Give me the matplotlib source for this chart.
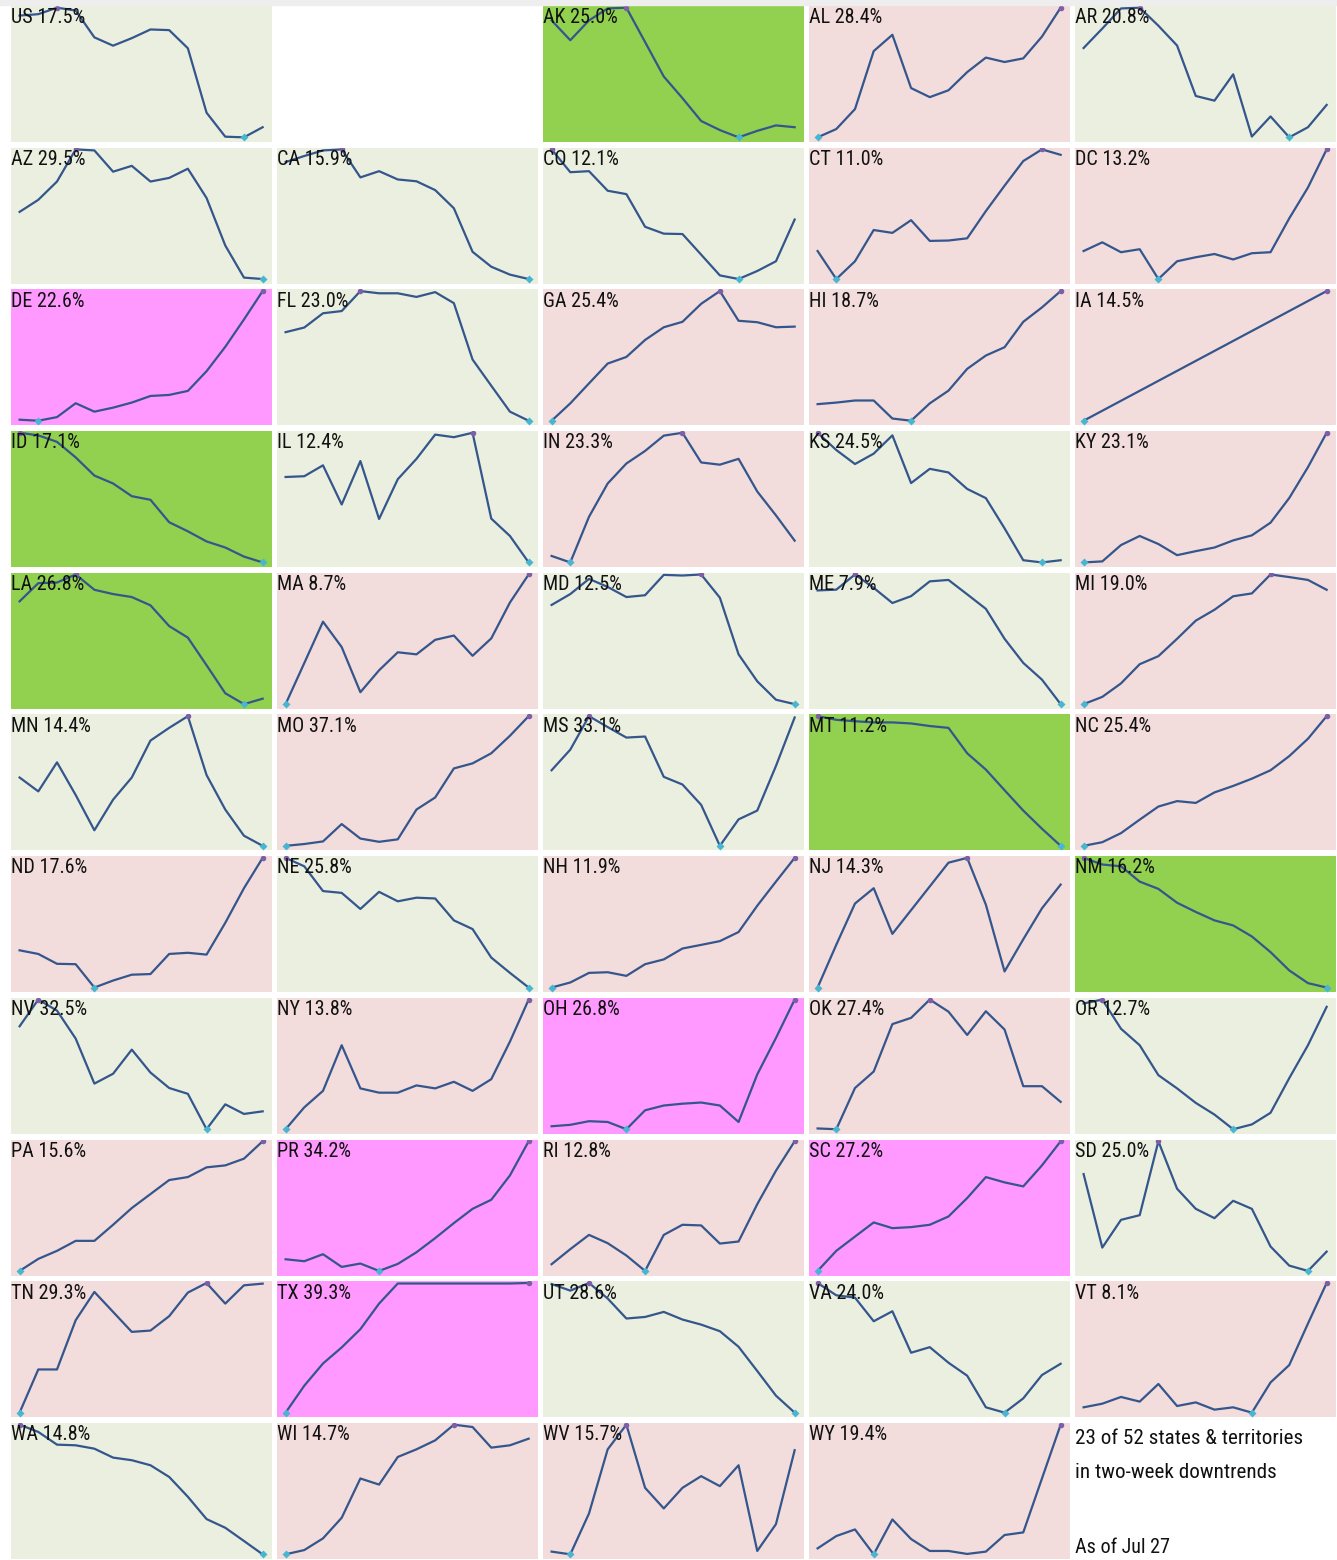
import numpy as np
import matplotlib
matplotlib.use("Agg")
import matplotlib.pyplot as plt
from matplotlib.patches import Rectangle

plt.rcParams["font.family"] = ["Roboto Condensed", "Archivo Narrow", "PT Sans Narrow",
                               "Liberation Sans Narrow", "DejaVu Sans"]

# Two-week trend per state, scaled 0 (lowest day) .. 100 (highest day)
states = [
    "US", None, "AK", "AL", "AR",
    "AZ", "CA", "CO", "CT", "DC",
    "DE", "FL", "GA", "HI", "IA",
    "ID", "IL", "IN", "KS", "KY",
    "LA", "MA", "MD", "ME", "MI",
    "MN", "MO", "MS", "MT", "NC",
    "ND", "NE", "NH", "NJ", "NM",
    "NV", "NY", "OH", "OK", "OR",
    "PA", "PR", "RI", "SC", "SD",
    "TN", "TX", "UT", "VA", "VT",
    "WA", "WI", "WV", "WY",
]

rates = {
    "US": "17.5%", "AK": "25.0%", "AL": "28.4%", "AR": "20.8%", "AZ": "29.5%",
    "CA": "15.9%", "CO": "12.1%", "CT": "11.0%", "DC": "13.2%", "DE": "22.6%",
    "FL": "23.0%", "GA": "25.4%", "HI": "18.7%", "IA": "14.5%", "ID": "17.1%",
    "IL": "12.4%", "IN": "23.3%", "KS": "24.5%", "KY": "23.1%", "LA": "26.8%",
    "MA": "8.7%", "MD": "12.5%", "ME": "7.9%", "MI": "19.0%", "MN": "14.4%",
    "MO": "37.1%", "MS": "33.1%", "MT": "11.2%", "NC": "25.4%", "ND": "17.6%",
    "NE": "25.8%", "NH": "11.9%", "NJ": "14.3%", "NM": "16.2%", "NV": "32.5%",
    "NY": "13.8%", "OH": "26.8%", "OK": "27.4%", "OR": "12.7%", "PA": "15.6%",
    "PR": "34.2%", "RI": "12.8%", "SC": "27.2%", "SD": "25.0%", "TN": "29.3%",
    "TX": "39.3%", "UT": "28.6%", "VA": "24.0%", "VT": "8.1%", "WA": "14.8%",
    "WI": "14.7%", "WV": "15.7%", "WY": "19.4%",
}

# down = two-week downtrend, up = uptrend, *2 = strong trend
trend = {
    "US": "down", "AK": "down2", "AL": "up", "AR": "down", "AZ": "down",
    "CA": "down", "CO": "down", "CT": "up", "DC": "up", "DE": "up2",
    "FL": "down", "GA": "up", "HI": "up", "IA": "up", "ID": "down2",
    "IL": "down", "IN": "up", "KS": "down", "KY": "up", "LA": "down2",
    "MA": "up", "MD": "down", "ME": "down", "MI": "up", "MN": "down",
    "MO": "up", "MS": "down", "MT": "down2", "NC": "up", "ND": "up",
    "NE": "down", "NH": "up", "NJ": "up", "NM": "down2", "NV": "down",
    "NY": "up", "OH": "up2", "OK": "up", "OR": "down", "PA": "up",
    "PR": "up2", "RI": "up", "SC": "up2", "SD": "down", "TN": "up",
    "TX": "up2", "UT": "down", "VA": "down", "VT": "up", "WA": "down",
    "WI": "up", "WV": "up", "WY": "up",
}

series = {
    "US": [93.9, 95.0, 100, 97.8, 77.1, 70.7, 76.5, 83.2, 82.7, 68.7, 19.0, 0.5, 0, 7.8],
    "AK": [90.2, 74.9, 90.2, 99.4, 100, 73.5, 46.9, 30.2, 12.6, 5.6, 0, 5.0, 9.2, 7.8],
    "AL": [0, 6.4, 21.8, 66.5, 79.1, 38.0, 31.0, 36.3, 50.3, 61.5, 58.1, 60.9, 77.7, 100],
    "AR": [68.9, 83.9, 99.4, 100, 86.1, 70.8, 31.9, 28.3, 48.6, 0.6, 16.1, 0, 7.8, 25.0],
    "AZ": [51.8, 61.1, 75.2, 100, 99.2, 82.8, 87.3, 75.2, 78.0, 85.1, 62.5, 25.9, 1.1, 0],
    "CA": [90.2, 94.9, 99.2, 100, 78.4, 83.2, 76.8, 75.4, 68.6, 54.6, 21.0, 9.5, 3.4, 0],
    "CO": [100, 82.4, 83.2, 68.1, 65.5, 40.3, 35.0, 34.7, 18.8, 2.8, 0, 6.2, 13.7, 45.9],
    "CT": [21.6, 0, 13.7, 37.8, 35.6, 45.4, 29.4, 29.7, 31.4, 52.4, 72.0, 91.0, 100, 95.8],
    "DC": [21.6, 28.3, 20.7, 23.0, 0, 13.7, 16.8, 19.3, 15.1, 19.9, 20.7, 46.8, 70.6, 100],
    "DE": [0.8, 0, 2.8, 13.5, 7.0, 10.1, 14.0, 19.1, 19.9, 23.0, 38.2, 57.0, 78.1, 100],
    "FL": [68.3, 71.9, 82.9, 84.6, 100, 98.3, 98.3, 95.5, 99.2, 90.7, 47.2, 27.0, 7.0, 0],
    "GA": [0, 13.4, 28.8, 44.1, 49.2, 62.3, 72.1, 76.3, 90.2, 100, 77.1, 76.0, 72.1, 72.6],
    "HI": [12.8, 14.0, 15.6, 15.6, 1.7, 0, 13.4, 23.2, 40.0, 50.3, 56.7, 76.3, 87.4, 100],
    "IA": [0, None, None, None, None, None, None, None, None, None, None, None, None, 100],
    "ID": [100, 98.0, 93.0, 81.0, 67.0, 60.9, 51.1, 48.3, 31.0, 24.0, 16.2, 11.5, 4.5, 0],
    "IL": [65.9, 66.5, 74.9, 44.7, 78.2, 33.5, 64.2, 79.9, 98.6, 96.6, 100, 33.8, 20.4, 0],
    "IN": [5.0, 0, 35.2, 60.9, 76.3, 86.0, 97.8, 100, 77.1, 75.4, 79.9, 54.7, 36.3, 16.8],
    "KS": [100, 86.7, 75.9, 83.9, 98.0, 61.2, 72.2, 69.4, 56.7, 49.6, 26.3, 1.7, 0, 1.7],
    "KY": [0, 0.8, 13.4, 20.4, 14.2, 5.6, 8.7, 11.5, 17.0, 20.9, 30.7, 49.7, 73.5, 100],
    "LA": [79.3, 93.3, 93.8, 100, 88.2, 84.9, 82.6, 76.2, 60.2, 51.3, 30.0, 8.4, 0, 4.2],
    "MA": [0, 31.7, 63.6, 44.0, 9.2, 26.1, 40.0, 38.4, 49.6, 52.9, 37.3, 50.7, 78.4, 100],
    "MD": [76.5, 84.9, 96.6, 90.4, 82.6, 84.0, 99.7, 99.2, 100, 82.1, 38.4, 17.6, 3.4, 0],
    "ME": [87.7, 88.3, 100, 89.7, 78.0, 83.3, 94.7, 95.8, 84.7, 73.5, 50.4, 31.8, 18.9, 0],
    "MI": [0, 5.6, 16.0, 30.8, 37.0, 50.4, 64.4, 72.8, 83.2, 85.4, 100, 98.0, 95.8, 88.2],
    "MN": [52.7, 42.0, 64.4, 39.2, 12.0, 35.6, 52.7, 81.2, 91.0, 100, 54.6, 28.0, 7.8, 0],
    "MO": [0, 1.4, 3.4, 16.8, 5.6, 3.1, 5.0, 28.0, 37.3, 59.7, 63.6, 71.4, 84.9, 100],
    "MS": [58.3, 74.2, 100, 91.6, 83.5, 84.3, 53.2, 47.3, 31.6, 0, 20.4, 27.2, 61.6, 99.0],
    "MT": [100, 97.2, 96.1, 95.2, 95.2, 94.4, 92.4, 91.0, 71.4, 58.8, 42.9, 27.2, 13.2, 0],
    "NC": [0, 2.8, 9.8, 20.2, 30.3, 34.5, 33.1, 41.2, 46.2, 51.8, 58.3, 69.2, 82.6, 100],
    "ND": [28.7, 25.9, 18.3, 18.0, 0, 5.4, 9.9, 10.4, 25.9, 26.8, 25.4, 49.9, 76.6, 100],
    "NE": [100, 93.5, 74.4, 73.0, 60.6, 73.8, 66.5, 69.3, 68.7, 51.8, 45.1, 23.1, 11.3, 0],
    "NH": [0, 3.9, 11.3, 11.8, 9.0, 18.0, 21.7, 30.1, 32.9, 35.8, 42.8, 63.1, 81.7, 100],
    "NJ": [0, 33.0, 64.8, 76.6, 41.4, 59.7, 78.0, 96.3, 100, 63.9, 12.4, 37.2, 61.1, 79.4],
    "NM": [100, 94.9, 93.5, 81.7, 76.1, 65.4, 58.3, 51.8, 47.9, 39.4, 27.3, 13.2, 3.4, 0],
    "NV": [79.4, 100, 91.5, 69.9, 35.2, 42.8, 61.4, 43.7, 31.8, 27.3, 0, 19.2, 11.8, 13.8],
    "NY": [0, 16.9, 29.6, 64.8, 31.5, 28.2, 28.2, 33.8, 31.5, 36.6, 29.6, 38.6, 67.6, 100],
    "OH": [2.3, 3.4, 6.2, 5.6, 0, 14.6, 18.3, 19.7, 20.6, 18.3, 5.6, 42.3, 70.4, 100],
    "OK": [0.6, 0, 31.8, 44.5, 81.1, 85.9, 100, 90.7, 72.7, 91.0, 76.9, 33.2, 33.2, 21.1],
    "OR": [97.0, 100, 77.5, 64.8, 41.7, 31.5, 20.3, 11.3, 0, 3.7, 12.7, 39.4, 64.8, 94.4],
    "PA": [0, 9.3, 15.5, 23.2, 23.2, 35.6, 48.5, 59.3, 70.1, 72.4, 79.9, 81.4, 86.6, 100],
    "PR": [9.0, 7.5, 12.9, 3.1, 5.7, 0, 5.4, 14.4, 25.3, 36.9, 47.9, 54.9, 73.7, 100],
    "RI": [5.2, 16.8, 27.8, 21.4, 11.9, 0, 27.8, 35.6, 35.1, 21.1, 22.7, 51.5, 77.3, 100],
    "SC": [0, 15.5, 26.5, 37.4, 33.0, 33.8, 35.6, 42.0, 56.2, 72.4, 68.3, 65.2, 81.4, 100],
    "SD": [74.7, 18.0, 39.4, 43.0, 100, 63.4, 47.9, 40.7, 54.1, 47.9, 18.8, 4.1, 0, 14.9],
    "TN": [0, 33.3, 33.3, 71.3, 93.1, 77.7, 62.3, 63.3, 74.4, 92.6, 100, 84.1, 98.2, 99.5],
    "TX": [0, 20.8, 37.9, 50.3, 64.4, 84.1, 99.6, 99.6, 99.6, 99.6, 99.6, 99.6, 99.6, 100],
    "UT": [99.2, 94.1, 100, 88.0, 72.6, 73.8, 77.7, 71.8, 67.9, 62.8, 50.8, 32.1, 13.1, 0],
    "VA": [100, 90.5, 88.7, 70.5, 78.2, 46.2, 50.5, 38.5, 28.5, 4.1, 0, 11.0, 29.0, 37.7],
    "VT": [4.1, 6.9, 12.1, 8.5, 22.1, 5.1, 7.9, 2.3, 4.1, 0, 23.3, 36.7, 68.7, 100],
    "WA": [100, 94.4, 84.6, 84.1, 81.5, 74.6, 72.6, 68.7, 59.7, 44.4, 27.2, 20.5, 10.3, 0],
    "WI": [0, 3.3, 12.3, 28.2, 58.5, 53.8, 75.1, 81.0, 87.9, 100, 98.2, 82.3, 84.1, 89.2],
    "WV": [2.1, 0, 31.5, 81.0, 100, 51.3, 35.4, 51.3, 60.3, 52.6, 68.7, 2.6, 23.3, 80.3],
    "WY": [4.6, 14.1, 19.2, 0, 26.9, 11.8, 2.6, 2.6, 0.3, 2.1, 14.9, 16.9, 58.5, 100],
}

summary_lines = ["23 of 52 states & territories", "in two-week downtrends"]
as_of = "As of Jul 27"

BG = {"down": "#ebefdf", "up": "#f2dcdc", "down2": "#92d050", "up2": "#ff99ff"}
LINE = "#34568c"
MAX_DOT = "#7e5ea6"
MIN_DOT = "#48b6d0"

W, H = 1337, 1560
fig = plt.figure(figsize=(W / 100, H / 100), dpi=100)
fig.patches.append(Rectangle((0, 1 - 5 / H), 1, 5 / H, transform=fig.transFigure,
                             color="#eeeeee", zorder=0))

NCOL = 5
COL_X0, COL_PITCH, PANEL_W = 11, 266, 261
ROW_Y0, ROW_PITCH, PANEL_H = 6, 141.7, 136


def panel_rect(i):
    r, c = divmod(i, NCOL)
    x = COL_X0 + c * COL_PITCH
    y = ROW_Y0 + r * ROW_PITCH
    return [x / W, 1 - (y + PANEL_H) / H, PANEL_W / W, PANEL_H / H]


for i, st in enumerate(states):
    if st is None:
        continue
    ax = fig.add_axes(panel_rect(i))
    ax.set_facecolor(BG[trend[st]])
    for s in ax.spines.values():
        s.set_visible(False)
    ax.set_xticks([])
    ax.set_yticks([])

    y = np.array([np.nan if v is None else v for v in series[st]], dtype=float)
    x = np.arange(len(y))
    ok = ~np.isnan(y)
    ax.plot(x[ok], y[ok], color=LINE, lw=1.6, solid_joinstyle="round", zorder=2)
    imax, imin = np.nanargmax(y), np.nanargmin(y)
    ax.plot(x[imax], y[imax], "o", ms=4, color=MAX_DOT, mec="none", zorder=3)
    ax.plot(x[imin], y[imin], "D", ms=3.6, color=MIN_DOT, mec="none", zorder=3)

    lo, hi = np.nanmin(y), np.nanmax(y)
    span = hi - lo
    ax.set_xlim(-0.46, len(y) - 0.5)
    ax.set_ylim(lo - 0.036 * span, hi + 0.013 * span)

    ax.text(0.001, 1 - 17.3 / PANEL_H, f"{st} {rates[st]}", transform=ax.transAxes,
            ha="left", va="baseline", fontsize=14.5, color="#111111", zorder=4)

# summary cell
r, c = divmod(len(states), NCOL)
tx = (COL_X0 + c * COL_PITCH) / W
ty = ROW_Y0 + r * ROW_PITCH
fig.text(tx, 1 - (ty + 21.3) / H, summary_lines[0], ha="left", va="baseline", fontsize=15.2, color="#111111")
fig.text(tx, 1 - (ty + 55.3) / H, summary_lines[1], ha="left", va="baseline", fontsize=15.2, color="#111111")
fig.text(tx, 1 - (ty + 130.3) / H, as_of, ha="left", va="baseline", fontsize=14.5, color="#111111")

fig.savefig("out.png", dpi=100, facecolor="white")
